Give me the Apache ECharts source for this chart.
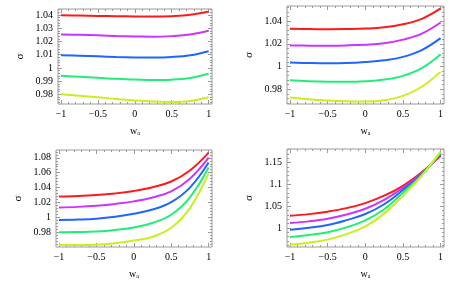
<!DOCTYPE html>
<html><head><meta charset="utf-8">
<script src="https://cdn.jsdelivr.net/npm/echarts@6/dist/echarts.min.js"></script>
<style>html,body{margin:0;padding:0;background:#fff}#c{width:463px;height:286px}</style>
</head><body><div id="c"></div>
<script>
// ---- data ----
const xs = [-1, -0.75, -0.5, -0.25, 0, 0.25, 0.5, 0.75, 1];

const p1_red    = [1.0398, 1.0396, 1.0393, 1.0391, 1.0389, 1.0388, 1.0391, 1.0401, 1.0426];
const p1_purple = [1.0253, 1.0250, 1.0246, 1.0241, 1.0238, 1.0236, 1.0240, 1.0252, 1.0280];
const p1_blue   = [1.0096, 1.0092, 1.0087, 1.0082, 1.0079, 1.0078, 1.0082, 1.0095, 1.0126];
const p1_green  = [0.9940, 0.9933, 0.9925, 0.9917, 0.9912, 0.9908, 0.9911, 0.9924, 0.9955];
const p1_yellow = [0.9800, 0.9790, 0.9778, 0.9765, 0.9754, 0.9746, 0.9743, 0.9750, 0.9778];

const p2_red    = [1.0332, 1.0330, 1.0329, 1.0330, 1.0334, 1.0345, 1.0372, 1.0420, 1.0512];
const p2_purple = [1.0185, 1.0184, 1.0184, 1.0186, 1.0192, 1.0205, 1.0237, 1.0290, 1.0388];
const p2_blue   = [1.0035, 1.0031, 1.0029, 1.0031, 1.0040, 1.0055, 1.0085, 1.0145, 1.0250];
const p2_green  = [0.9880, 0.9871, 0.9866, 0.9865, 0.9870, 0.9885, 0.9918, 0.9985, 1.0108];
const p2_yellow = [0.9727, 0.9712, 0.9701, 0.9694, 0.9692, 0.9703, 0.9742, 0.9822, 0.9955];

const p3_red    = [1.0280, 1.0287, 1.0300, 1.0322, 1.0355, 1.0405, 1.0482, 1.0630, 1.0870];
const p3_purple = [1.0133, 1.0141, 1.0156, 1.0180, 1.0215, 1.0268, 1.0350, 1.0520, 1.0802];
const p3_blue   = [0.9964, 0.9970, 0.9982, 1.0008, 1.0048, 1.0105, 1.0205, 1.0400, 1.0737];
const p3_green  = [0.9800, 0.9802, 0.9809, 0.9830, 0.9865, 0.9925, 1.0035, 1.0270, 1.0670];
const p3_yellow = [0.9632, 0.9630, 0.9633, 0.9652, 0.9688, 0.9740, 0.9860, 1.0125, 1.0590];

const p4_red    = [1.0282, 1.0318, 1.0375, 1.0455, 1.0571, 1.0740, 1.0967, 1.1275, 1.1655];
const p4_purple = [1.0114, 1.0152, 1.0213, 1.0310, 1.0441, 1.0645, 1.0920, 1.1255, 1.1680];
const p4_blue   = [0.9962, 1.0005, 1.0068, 1.0180, 1.0320, 1.0545, 1.0870, 1.1235, 1.1700];
const p4_green  = [0.9795, 0.9840, 0.9905, 1.0015, 1.0175, 1.0430, 1.0810, 1.1215, 1.1725];
const p4_yellow = [0.9620, 0.9665, 0.9734, 0.9860, 1.0038, 1.0330, 1.0740, 1.1200, 1.1750];

// ---- ticks ----
const xTicks = [-1, -0.5, 0, 0.5, 1];
const xTickLabels = ['\u22121', '\u22120.5', '0', '0.5', '1'];
const p1YTicks = [0.98, 0.99, 1, 1.01, 1.02, 1.03, 1.04];
const p1YLabels = ['0.98', '0.99', '1', '1.01', '1.02', '1.03', '1.04'];
const p2YTicks = [0.98, 1, 1.02, 1.04];
const p2YLabels = ['0.98', '1', '1.02', '1.04'];
const p3YTicks = [0.96, 0.98, 1, 1.02, 1.04, 1.06, 1.08];
const p3YLabels = ['0.96', '0.98', '1', '1.02', '1.04', '1.06', '1.08'];
const p4YTicks = [1, 1.05, 1.1, 1.15];
const p4YLabels = ['1', '1.05', '1.1', '1.15'];

const xLabel = 'w';
const xSub = 'a';
const yLabel = '\u03c3';

// ---- layout ----
const colors = ['#ff1a1a', '#cc33ff', '#1f66ff', '#22ee77', '#c6f01e'];
const panels = [
  { grid: {left: 58, top: 9, width: 154, height: 95}, xr: [-1.04, 1.045], yr: [0.9727, 1.0445],
    yt: p1YTicks, yl: p1YLabels, ystep: 0.01, series: [p1_red, p1_purple, p1_blue, p1_green, p1_yellow] },
  { grid: {left: 287, top: 6, width: 157, height: 98}, xr: [-1.04, 1.045], yr: [0.967, 1.0533],
    yt: p2YTicks, yl: p2YLabels, ystep: 0.02, series: [p2_red, p2_purple, p2_blue, p2_green, p2_yellow] },
  { grid: {left: 56, top: 150, width: 156, height: 97}, xr: [-1.04, 1.045], yr: [0.9602, 1.0905],
    yt: p3YTicks, yl: p3YLabels, ystep: 0.02, series: [p3_red, p3_purple, p3_blue, p3_green, p3_yellow] },
  { grid: {left: 287, top: 149, width: 157, height: 98}, xr: [-1.04, 1.045], yr: [0.9565, 1.181],
    yt: p4YTicks, yl: p4YLabels, ystep: 0.05, series: [p4_red, p4_purple, p4_blue, p4_green, p4_yellow] }
];

const FONT = 'Liberation Serif';
const frameColor = '#9a9a9a';

function minorVals(min, max, step, majors) {
  const out = [];
  const s = step / 5;
  const start = Math.ceil(min / s - 1e-9);
  for (let k = start; k * s <= max + 1e-12; k++) {
    const v = +(k * s).toFixed(6);
    if (!majors.some(m => Math.abs(m - v) < 1e-9)) out.push(v);
  }
  return out;
}

const grids = [], xAxes = [], yAxes = [], series = [];
panels.forEach((p, gi) => {
  grids.push(Object.assign({show: true, borderColor: frameColor, borderWidth: 1, backgroundColor: 'transparent'}, p.grid));
  const xMinor = minorVals(p.xr[0], p.xr[1], 0.5, xTicks);
  const yMinor = minorVals(p.yr[0], p.yr[1], p.ystep, p.yt);
  const baseX = {type: 'value', gridIndex: gi, min: p.xr[0], max: p.xr[1],
    axisLine: {show: false, onZero: false}, splitLine: {show: false}};
  const baseY = {type: 'value', gridIndex: gi, min: p.yr[0], max: p.yr[1],
    axisLine: {show: false, onZero: false}, splitLine: {show: false}};
  const xMainIdx = xAxes.length;
  ['bottom', 'top'].forEach(pos => {
    const main = pos === 'bottom';
    xAxes.push(Object.assign({}, baseX, {
      position: pos,
      axisTick: {show: true, inside: true, length: 4, lineStyle: {color: frameColor}, customValues: xTicks},
      axisLabel: main ? {show: true, customValues: xTicks, margin: 5, fontFamily: FONT, fontSize: 10, color: '#000',
        formatter: v => { const i = xTicks.findIndex(t => Math.abs(t - v) < 1e-9); return i >= 0 ? xTickLabels[i] : ''; }} : {show: false},
      name: main ? '{w|' + xLabel + '}{s|' + xSub + '}' : '',
      nameLocation: 'middle', nameGap: 21,
      nameTextStyle: {rich: {w: {fontFamily: FONT, fontSize: 10, color: '#000', lineHeight: 12},
                             s: {fontFamily: FONT, fontSize: 6, color: '#000', lineHeight: 12, padding: [5, 0, 0, 0]}}}
    }));
    xAxes.push(Object.assign({}, baseX, {
      position: pos,
      axisTick: {show: true, inside: true, length: 2, lineStyle: {color: frameColor}, customValues: xMinor},
      axisLabel: {show: false}
    }));
  });
  const yMainIdx = yAxes.length;
  ['left', 'right'].forEach(pos => {
    const main = pos === 'left';
    yAxes.push(Object.assign({}, baseY, {
      position: pos,
      axisTick: {show: true, inside: true, length: 4, lineStyle: {color: frameColor}, customValues: p.yt},
      axisLabel: main ? {show: true, customValues: p.yt, margin: 5, fontFamily: FONT, fontSize: 10, color: '#000',
        formatter: v => { const i = p.yt.findIndex(t => Math.abs(t - v) < 1e-9); return i >= 0 ? p.yl[i] : ''; }} : {show: false},
      name: main ? yLabel : '',
      nameLocation: 'middle', nameGap: 32,
      nameTextStyle: {fontFamily: FONT, fontSize: 11, color: '#000'}
    }));
    yAxes.push(Object.assign({}, baseY, {
      position: pos,
      axisTick: {show: true, inside: true, length: 2, lineStyle: {color: frameColor}, customValues: yMinor},
      axisLabel: {show: false}
    }));
  });
  p.series.forEach((arr, si) => {
    series.push({
      type: 'line', xAxisIndex: xMainIdx, yAxisIndex: yMainIdx,
      data: xs.map((x, i) => [x, arr[i]]),
      smooth: 0.4, showSymbol: false, silent: true,
      lineStyle: {color: colors[si], width: 2}
    });
  });
});

const chart = echarts.init(document.getElementById('c'), null, {renderer: 'canvas'});
chart.setOption({animation: false, grid: grids, xAxis: xAxes, yAxis: yAxes, series: series});
</script>
</body></html>
